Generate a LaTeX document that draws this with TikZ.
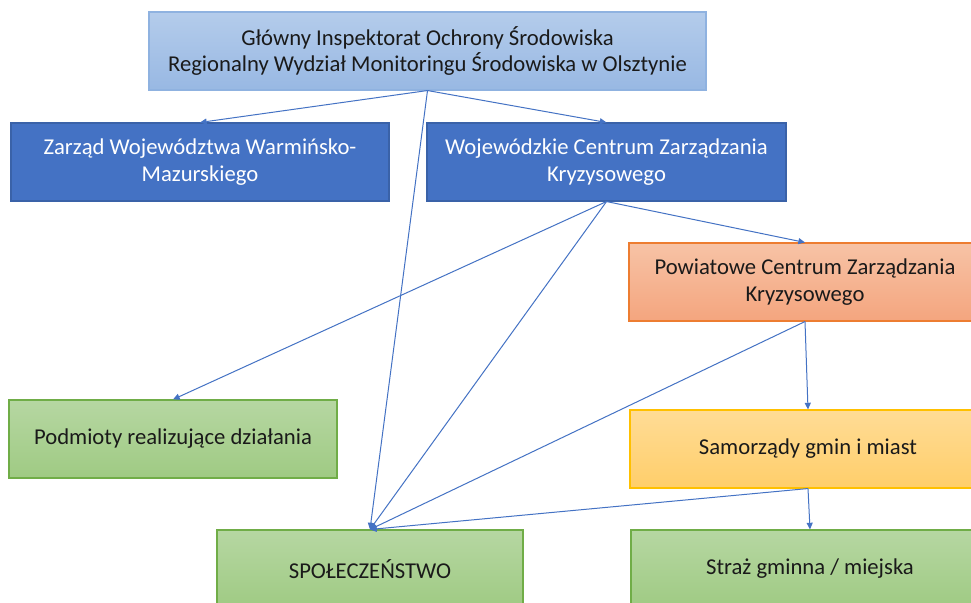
\documentclass[tikz,border=0pt]{standalone}
\usepackage{fontspec}
\setmainfont{Carlito}
\usetikzlibrary{arrows.meta}
\definecolor{lbTop}{HTML}{B4CCEB}
\definecolor{lbBot}{HTML}{98B8E3}
\definecolor{lbLine}{HTML}{8FB2E0}
\definecolor{dBlue}{HTML}{4472C4}
\definecolor{dBlueLine}{HTML}{3A62A8}
\definecolor{orTop}{HTML}{F7C3A6}
\definecolor{orBot}{HTML}{F4A57E}
\definecolor{orLine}{HTML}{ED7D31}
\definecolor{yeTop}{HTML}{FFDC96}
\definecolor{yeBot}{HTML}{FFCE6A}
\definecolor{yeLine}{HTML}{FFC000}
\definecolor{grTop}{HTML}{B6D7A2}
\definecolor{grBot}{HTML}{9FCA83}
\definecolor{grLine}{HTML}{70AD47}
\definecolor{txt}{HTML}{1A1A1A}
\tikzset{
  basebox/.style={rectangle, align=center, inner sep=0pt, line width=0.8pt,
    font=\fontsize{17}{20}\selectfont, minimum height=58.5pt},
  lightbox/.style={basebox, draw=lbLine, top color=lbTop, bottom color=lbBot, text=txt},
  darkbox/.style={basebox, draw=dBlueLine, fill=dBlue, text=white},
  orangebox/.style={basebox, draw=orLine, top color=orTop, bottom color=orBot, text=txt},
  yellowbox/.style={basebox, draw=yeLine, top color=yeTop, bottom color=yeBot, text=txt},
  greenbox/.style={basebox, draw=grLine, top color=grTop, bottom color=grBot, text=txt},
  conn/.style={draw=dBlue, line width=0.75pt, -{Triangle[length=5pt,width=4.5pt]}}
}
\begin{document}
\begin{tikzpicture}[x=0.75pt,y=-0.75pt]
\useasboundingbox (0,0) rectangle (971,603);
\clip (0,0) rectangle (971,603);
\fill[white] (0,0) rectangle (971,603);

\node[lightbox, minimum width=417.75pt] (gios) at (427.5,51)
  {Główny Inspektorat Ochrony Środowiska\\Regionalny Wydział Monitoringu Środowiska w Olsztynie};
\node[darkbox, minimum width=283.5pt] (zarzad) at (200,162)
  {Zarząd Województwa Warmińsko-\\Mazurskiego};
\node[darkbox, minimum width=269.25pt] (woj) at (606.5,162)
  {Wojewódzkie Centrum Zarządzania\\Kryzysowego};
\node[orangebox, minimum width=264pt] (pow) at (805,282)
  {Powiatowe Centrum Zarządzania\\Kryzysowego};
\node[greenbox, minimum width=246pt] (podm) at (173,439)
  {Podmioty realizujące działania};
\node[yellowbox, minimum width=267pt] (sam) at (808,449)
  {Samorządy gmin i miast};
\node[greenbox, minimum width=229.5pt] (spol) at (370,569)
  {SPOŁECZEŃSTWO};
\node[greenbox, minimum width=268.5pt] (straz) at (810,569)
  {Straż gminna / miejska};

\draw[conn] (gios.south) -- (zarzad.north);
\draw[conn] (gios.south) -- (woj.north);
\draw[conn] (gios.south) -- (spol.north);
\draw[conn] (woj.south) -- (podm.north);
\draw[conn] (woj.south) -- (spol.north);
\draw[conn] (woj.south) -- (pow.north);
\draw[conn] (pow.south) -- (spol.north);
\draw[conn] (pow.south) -- (sam.north);
\draw[conn] (sam.south) -- (spol.north);
\draw[conn] (sam.south) -- (straz.north);
\end{tikzpicture}
\end{document}
